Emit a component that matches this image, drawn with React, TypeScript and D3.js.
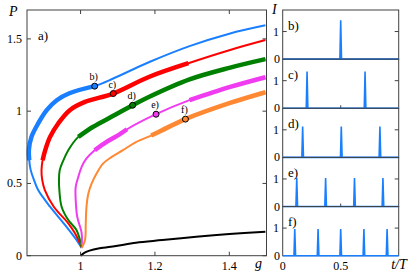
import * as d3 from "d3";

// ---- left panel data: P(g) branches ----
const blueCurve: [number, number][] = [
  [1.003, 0.053], [0.989, 0.109], [0.954, 0.226], [0.918, 0.339], [0.886, 0.454],
  [0.875, 0.523], [0.866, 0.592], [0.862, 0.661], [0.861, 0.73], [0.868, 0.822],
  [0.886, 0.915], [0.909, 1.007], [0.936, 1.076], [0.97, 1.124], [1.038, 1.173],
  [1.088, 1.226], [1.185, 1.34], [1.293, 1.45], [1.4, 1.536], [1.497, 1.594],
];
const redCurve: [number, number][] = [
  [1.003, 0.06], [0.985, 0.155], [0.967, 0.224], [0.928, 0.339], [0.904, 0.454],
  [0.897, 0.523], [0.895, 0.592], [0.898, 0.661], [0.905, 0.73], [0.918, 0.822],
  [0.94, 0.915], [0.971, 1.007], [1.012, 1.064], [1.088, 1.122], [1.185, 1.238],
  [1.29, 1.332], [1.4, 1.422], [1.497, 1.492],
];
const greenCurve: [number, number][] = [
  [1.003, 0.06], [0.989, 0.178], [0.967, 0.247], [0.949, 0.339], [0.943, 0.454],
  [0.942, 0.523], [0.944, 0.592], [0.954, 0.661], [0.967, 0.73], [0.994, 0.822],
  [1.034, 0.892], [1.083, 0.961], [1.14, 1.041], [1.185, 1.1], [1.293, 1.22],
  [1.4, 1.3], [1.497, 1.36],
];
const magentaCurve: [number, number][] = [
  [1.003, 0.074], [1.003, 0.155], [0.991, 0.27], [0.987, 0.385], [0.987, 0.477],
  [0.994, 0.546], [1.003, 0.615], [1.016, 0.673], [1.038, 0.73], [1.07, 0.788],
  [1.097, 0.827], [1.125, 0.875], [1.203, 0.979], [1.293, 1.076], [1.4, 1.166],
  [1.497, 1.235],
];
const orangeCurve: [number, number][] = [
  [1.003, 0.053], [1.012, 0.109], [1.014, 0.224], [1.016, 0.339], [1.021, 0.431],
  [1.03, 0.5], [1.043, 0.569], [1.061, 0.639], [1.083, 0.682], [1.114, 0.73],
  [1.149, 0.786], [1.19, 0.831], [1.22, 0.869], [1.282, 0.945], [1.4, 1.055],
  [1.497, 1.131],
];
const blackCurve: [number, number][] = [
  [1.0, 0], [1.011, 0.021], [1.024, 0.035], [1.051, 0.051], [1.095, 0.067],
  [1.149, 0.09], [1.22, 0.108], [1.311, 0.131], [1.4, 0.15], [1.497, 0.166],
];

const markerLabels = ["b)", "c)", "d)", "e)", "f)"];
const markerG = [1.038, 1.088, 1.14, 1.203, 1.282];
const markerP = [1.173, 1.122, 1.041, 0.979, 0.945];

const gTicks = [1, 1.2, 1.4];
const pTicks = [0, 0.5, 1, 1.5];

// ---- right panels: pulse trains I(t/T) ----
const panelLabels = ["b)", "c)", "d)", "e)", "f)"];
const peakTimes = [
  [0.5],
  [0.21, 0.71],
  [0.172, 0.505, 0.838],
  [0.121, 0.37, 0.619, 0.864],
  [0.104, 0.305, 0.5, 0.7, 0.9],
];
const peakHeights = [1.41, 1.33, 1.12, 1.03, 0.97];
const tTicks = [0, 0.5];

const BLUE = "#1a7fff";
const colors = [BLUE, "#ff0000", "#008000", "#f03cf0", "#ff8833"];
const curves = [blueCurve, redCurve, greenCurve, magentaCurve, orangeCurve];
// index ranges drawn with the heavy stroke
const thickRanges: [number, number][][] = [
  [[7, 14]],
  [[7, 15]],
  [[9, 16]],
  [[8, 11], [13, 15]],
  [[11, 15]],
];

const FONT = "'Liberation Serif', 'Times New Roman', serif";
const FRAME = "#404040";

export default function App() {
  const W = 415;
  const H = 276;

  const x = d3.scaleLinear().domain([0.856, 1.5]).range([27, 266.5]);
  const y = d3.scaleLinear().domain([0, 1.7]).range([255.7, 10]);

  const line = d3
    .line<[number, number]>()
    .x((d) => x(d[0]))
    .y((d) => y(d[1]))
    .curve(d3.curveCatmullRom.alpha(0.5));

  // right panels
  const rx = d3.scaleLinear().domain([0, 1]).range([282.7, 398.7]);
  const top0 = 10;
  const bottom = 255.7;
  const ph = (bottom - top0) / 5;
  const hw = 0.007;

  const pulse = d3
    .line<[number, number]>()
    .x((d) => rx(d[0]))
    .y((d) => d[1]);

  return (
    <svg
      width={W}
      height={H}
      style={{ position: "absolute", left: 0, top: 0, background: "#fff" }}
      fontFamily={FONT}
    >
      {/* ---------------- panel a ---------------- */}
      <g>
        <path d={line(blackCurve) || ""} fill="none" stroke="#000" strokeWidth={2} />
        {curves.map((pts, i) => (
          <g key={i}>
            <path d={line(pts) || ""} fill="none" stroke={colors[i]} strokeWidth={2} />
            {thickRanges[i].map(([a, b], j) => (
              <path
                key={j}
                d={line(pts.slice(a, b + 1)) || ""}
                fill="none"
                stroke={colors[i]}
                strokeWidth={4.5}
                strokeLinecap="butt"
              />
            ))}
          </g>
        ))}
        {markerLabels.map((lab, i) => (
          <g key={lab}>
            <circle
              cx={x(markerG[i])}
              cy={y(markerP[i])}
              r={3}
              fill={colors[i]}
              stroke="#000"
              strokeWidth={1}
            />
            <text
              x={x(markerG[i]) - 1}
              y={y(markerP[i]) - 6}
              fontSize={10}
              textAnchor="middle"
            >
              {lab}
            </text>
          </g>
        ))}

        <rect x={27} y={10} width={239.5} height={245.7} fill="none" stroke={FRAME} strokeWidth={1} />
        {gTicks.map((t) => (
          <g key={t}>
            <line x1={x(t)} x2={x(t)} y1={255.7} y2={251.7} stroke={FRAME} />
            <line x1={x(t)} x2={x(t)} y1={10} y2={14} stroke={FRAME} />
            <text x={x(t)} y={270} fontSize={12} textAnchor="middle">
              {t}
            </text>
          </g>
        ))}
        {pTicks.map((t) => (
          <g key={t}>
            <line x1={27} x2={31} y1={y(t)} y2={y(t)} stroke={FRAME} />
            <line x1={266.5} x2={262.5} y1={y(t)} y2={y(t)} stroke={FRAME} />
            <text x={22} y={y(t) + 4} fontSize={12} textAnchor="end">
              {t}
            </text>
          </g>
        ))}
        <text x={9} y={16} fontSize={14} fontStyle="italic">P</text>
        <text x={255} y={268} fontSize={14} fontStyle="italic">g</text>
        <text x={38} y={40} fontSize={13}>a)</text>
      </g>

      {/* ---------------- panels b-f ---------------- */}
      {panelLabels.map((lab, i) => {
        const pt = top0 + i * ph;
        const pb = pt + ph;
        const ry = d3.scaleLinear().domain([0, 1.78]).range([pb, pt]);
        const pts: [number, number][] = [[0, ry(0)]];
        peakTimes[i].forEach((t) => {
          pts.push([t - hw, ry(0)], [t, ry(peakHeights[i])], [t + hw, ry(0)]);
        });
        pts.push([1, ry(0)]);
        return (
          <g key={lab}>
            <rect x={282.7} y={pt} width={116} height={ph} fill="none" stroke={FRAME} strokeWidth={1} />
            <line x1={282.7} x2={286.7} y1={ry(1)} y2={ry(1)} stroke={FRAME} />
            <line x1={398.7} x2={394.7} y1={ry(1)} y2={ry(1)} stroke={FRAME} />
            <line x1={rx(0.5)} x2={rx(0.5)} y1={pb} y2={pb - 3} stroke={FRAME} />
            <path d={pulse(pts) || ""} fill="none" stroke={BLUE} strokeWidth={1.6} strokeLinejoin="miter" />
            <text x={279} y={ry(1) + 4} fontSize={12} textAnchor="end">1</text>
            <text x={280} y={ry(0) + 4} fontSize={12} textAnchor="end">0</text>
            <text x={288} y={pt + 19.5} fontSize={13}>{lab}</text>
          </g>
        );
      })}
      {tTicks.map((t) => (
        <text key={t} x={rx(t)} y={270} fontSize={12} textAnchor="middle">
          {t}
        </text>
      ))}
      <text x={272} y={14} fontSize={14} fontStyle="italic">I</text>
      <text x={399} y={269} fontSize={14} fontStyle="italic" textAnchor="middle">t/T</text>
    </svg>
  );
}
